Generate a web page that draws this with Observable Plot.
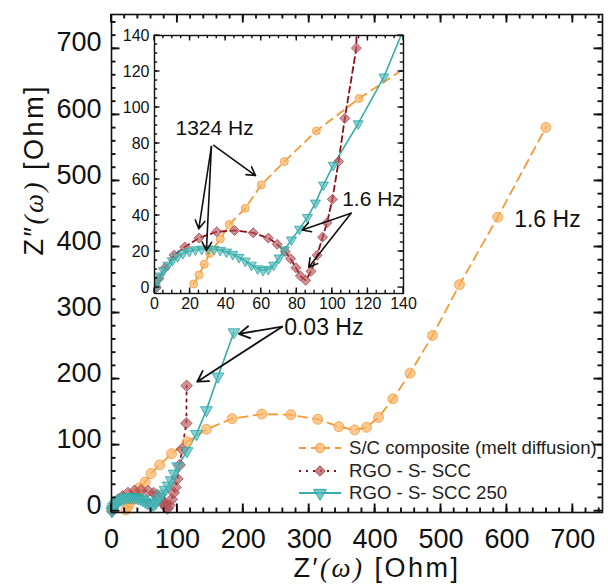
<!DOCTYPE html>
<html><head><meta charset="utf-8">
<script src="https://cdn.jsdelivr.net/npm/d3@7"></script>
<script src="https://cdn.jsdelivr.net/npm/@observablehq/plot@0.6"></script>
<style>
body{margin:0;background:#fff;font-family:"Liberation Sans",Arial,sans-serif;}
#wrap{position:relative;width:608px;height:585px;overflow:hidden;}
#inset{position:absolute;left:100px;top:20px;}
#legend{position:absolute;left:296px;top:437px;font-size:18.6px;color:#222;line-height:22.5px;}
#legend div{display:flex;align-items:center;height:22.5px;white-space:nowrap;}
#legend svg{margin-right:7px;}
</style></head><body><div id="wrap"></div>
<script>
// S/C composite (melt diffusion)
const scX = [22,25,28,31,37,42,51,60,73,91,115,144,183,228,272,313,345,369,387,405,427,453,487,528,586,659];
const scY = [2,7,13,19,27,35,44,57,70,87,105,124,140,147,146,139,128,123,127,142,170,209,266,343,445,581];
// RGO - S- SCC
const rgoX = [1,2.5,6,11,17,25,35,45,55.5,64,69,73.5,76.5,79.5,82,85,88,91.5,94.5,97,100,103.5,107,113.5,114];
const rgoY = [0,5,11,18,22.5,27.5,31,31.7,30.4,27.5,24,20,16,11,6.5,4,9,18,28,36,49,70,94,133,190];
// RGO - S- SCC 250
const r250X = [0.5,1.5,3,5,7.5,10,13,16,19.5,23,26.5,30,33.5,37,40.5,44,47.5,51,54.5,58,61,64,67,70,73,77,81.5,86,90.5,95,100.5,114.5,129,144,161.5,185.7];
const r250Y = [0,3.5,6.5,9.5,12.5,15,17.2,19,20.2,21,21.4,21.5,21.3,20.7,19.8,18.5,16.8,14.8,12.5,10.5,9.6,10.2,12.5,16.5,21,26.5,32.5,39,47,57,68,91,117,153,204,271];

const seriesNames = ["S/C composite (melt diffusion)","RGO - S- SCC","RGO - S- SCC 250"];
const mainXTicks = [0,100,200,300,400,500,600,700];
const mainYTicks = [0,100,200,300,400,500,600,700];
const insetTicks = [0,20,40,60,80,100,120,140];

// annotations
const mainLabels = [{x:262,y:278.4,text:"0.03 Hz"},{x:611,y:441.5,text:"1.6 Hz"}];
const mainArrows = [{x1:259,y1:279.4,x2:193.3,y2:268.4},{x1:259,y1:279.4,x2:130,y2:196}];
const insetLabels = [{x:11.8,y:88.2,text:"1324 Hz"},{x:105.5,y:49.3,text:"1.6 Hz"}];
const insetArrows = [
  {x1:32,y1:78.3,x2:24.9,y2:32.6},{x1:32,y1:78.3,x2:29.2,y2:20.6},{x1:33.3,y1:79,x2:56.8,y2:62.2},
  {x1:110.5,y1:41.3,x2:83,y2:32},{x1:110.5,y1:41.3,x2:86.7,y2:11.3}
];

const zip = (xs, ys) => xs.map((x,i)=>({x, y: ys[i]}));
const sc = zip(scX, scY), rgo = zip(rgoX, rgoY), r250 = zip(r250X, r250Y);

const C = {
  orange:"#F59A34", orangeFill:"#F9B25E", orangeStroke:"#F39E45",
  red:"#8E0F18", redFill:"#B8555B", redStroke:"#A0474C",
  teal:"#35AEAD", tealFill:"#4DB8B8", tealStroke:"#2FA5A5"
};
const FONT = "Liberation Sans, Arial, sans-serif";

function seriesMarks(opt) {
  const clip = opt.clip;
  return [
    Plot.line(sc, {x:"x", y:"y", stroke:C.orange, strokeWidth:1.8, strokeDasharray:opt.scDash, clip}),
    Plot.line(rgo, {x:"x", y:"y", stroke:C.red, strokeWidth:1.8, strokeDasharray:opt.rgoDash, clip}),
    Plot.line(r250, {x:"x", y:"y", stroke:C.teal, strokeWidth:1.6, clip}),
    Plot.dot(sc, {x:"x", y:"y", symbol:"circle", r:opt.rc, fill:C.orangeFill, fillOpacity:0.7, stroke:C.orangeStroke, strokeOpacity:0.8, strokeWidth:1, clip}),
    Plot.dot(rgo, {x:"x", y:"y", symbol:"diamond2", r:opt.rd, fill:C.redFill, fillOpacity:0.65, stroke:C.redStroke, strokeOpacity:0.8, strokeWidth:1, clip}),
    Plot.dot(r250, {x:"x", y:"y", symbol:"triangle", rotate:180, r:opt.rt, fill:C.tealFill, fillOpacity:0.65, stroke:C.tealStroke, strokeOpacity:0.8, strokeWidth:1, clip})
  ];
}

// inward ticks on all four sides, positioned with the plot's own x and y scales
function addFrameTicks(fig, tx, ty, mx, my, major, minor, sw) {
  const sx = fig.scale("x"), sy = fig.scale("y");
  const [X0, X1] = sx.range, [Y0, Y1] = sy.range; // Y0 bottom, Y1 top
  const g = d3.select(fig).append("g").attr("stroke", "#111").attr("stroke-width", sw).attr("fill", "none");
  for (const [T, L] of [[tx, major],[mx, minor]]) for (const v of T) {
    const p = sx.apply(v);
    g.append("line").attr("x1", p).attr("x2", p).attr("y1", Y0).attr("y2", Y0 - L);
    g.append("line").attr("x1", p).attr("x2", p).attr("y1", Y1).attr("y2", Y1 + L);
  }
  for (const [T, L] of [[ty, major],[my, minor]]) for (const v of T) {
    const p = sy.apply(v);
    g.append("line").attr("y1", p).attr("y2", p).attr("x1", X0).attr("x2", X0 + L);
    g.append("line").attr("y1", p).attr("y2", p).attr("x1", X1).attr("x2", X1 - L);
  }
}

const wrap = document.getElementById("wrap");

const main = Plot.plot({
  width:608, height:585,
  marginLeft:111, marginRight:6, marginTop:14, marginBottom:73,
  x:{domain:[0,745]}, y:{domain:[-2,752]},
  style:{fontFamily:FONT, background:"white", color:"#111", overflow:"visible"},
  marks:[
    ...seriesMarks({scDash:"9,6", rgoDash:"2,5", rc:5, rd:5.2, rt:4.4}),
    Plot.frame({stroke:"#111", strokeWidth:1.6}),
    Plot.axisX(mainXTicks, {anchor:"bottom", tickSize:0, tickPadding:16, fontSize:27, label:null}),
    Plot.axisY(mainYTicks, {anchor:"left", tickSize:0, tickPadding:10, fontSize:27, label:null, dy:-6}),
    Plot.text(["X"], {frameAnchor:"bottom", dx:20, dy:64, text:()=>"XTITLE", fontSize:27, fill:"#111"}),
    Plot.text(["Y"], {frameAnchor:"left", dx:-77, dy:-8, rotate:-90, text:()=>"YTITLE", fontSize:27, fill:"#111"}),
    Plot.arrow(mainArrows, {x1:"x1", y1:"y1", x2:"x2", y2:"y2", stroke:"#111", strokeWidth:1.8, headLength:10}),
    Plot.text(mainLabels, {x:"x", y:"y", text:"text", textAnchor:"start", fontSize:23, fill:"#111"})
  ]
});
addFrameTicks(main, mainXTicks, mainYTicks, d3.range(20,745,20), d3.range(20,751,20), 8.5, 4.5, 1.9);
wrap.appendChild(main);

const inset = Plot.plot({
  width:310, height:295,
  marginLeft:54, marginRight:7, marginTop:15, marginBottom:22,
  x:{domain:[0,140]}, y:{domain:[-3.3,140]},
  style:{fontFamily:FONT, background:"transparent", color:"#111", overflow:"visible"},
  marks:[
    Plot.frame({fill:"white", stroke:"none"}),
    ...seriesMarks({scDash:"8,6", rgoDash:"6,4", rc:4, rd:4.5, rt:3.7, clip:true}),
    Plot.frame({stroke:"#111", strokeWidth:1.4}),
    Plot.axisX(insetTicks, {anchor:"bottom", tickSize:0, tickPadding:4, fontSize:16, label:null}),
    Plot.axisY(insetTicks, {anchor:"left", tickSize:0, tickPadding:5, fontSize:16, label:null}),
    Plot.arrow(insetArrows, {x1:"x1", y1:"y1", x2:"x2", y2:"y2", stroke:"#111", strokeWidth:1.6, headLength:9}),
    Plot.text(insetLabels, {x:"x", y:"y", text:"text", textAnchor:"start", fontSize:21, fill:"#111"})
  ]
});
addFrameTicks(inset, insetTicks, insetTicks, d3.range(5,140,5), d3.range(5,140,5), 5.5, 3.2, 1.4);
inset.id = "inset";
wrap.appendChild(inset);

// axis titles with italic (ω)
function richTitle(node, prime) {
  node.textContent = "";
  const t = d3.select(node).attr("letter-spacing", "2.5");
  t.append("tspan").text("Z" + prime);
  t.append("tspan").attr("font-family","Liberation Serif, Times New Roman, serif").attr("font-style","italic").text("(ω)");
  t.append("tspan").text(" [Ohm]");
}
main.querySelectorAll("text").forEach(n => {
  if (n.textContent === "XTITLE") richTitle(n, "′");
  else if (n.textContent === "YTITLE") richTitle(n, "″");
});

// legend
const legendSpec = [
  {name:seriesNames[0], line:C.orange, dash:"7,5", sym:"circle", fill:C.orangeFill, stroke:C.orangeStroke, rot:0},
  {name:seriesNames[1], line:C.red, dash:"2,5", sym:"diamond2", fill:C.redFill, stroke:C.redStroke, rot:0},
  {name:seriesNames[2], line:C.teal, dash:null, sym:"triangle", fill:C.tealFill, stroke:C.tealStroke, rot:180}
];
const symMap = {circle:d3.symbolCircle, diamond2:d3.symbolDiamond2, triangle:d3.symbolTriangle};
const leg = d3.select(wrap).append("div").attr("id","legend");
for (const s of legendSpec) {
  const row = leg.append("div");
  const svg = row.append("svg").attr("width",46).attr("height",20);
  svg.append("line").attr("x1",3).attr("x2",45).attr("y1",10).attr("y2",10)
    .attr("stroke",s.line).attr("stroke-width",1.8).attr("stroke-dasharray",s.dash);
  svg.append("path").attr("d", d3.symbol(symMap[s.sym], Math.PI*4.7*4.7)())
    .attr("transform",`translate(24,10) rotate(${s.rot})`)
    .attr("fill",s.fill).attr("fill-opacity",0.75).attr("stroke",s.stroke).attr("stroke-width",1);
  row.append("span").text(s.name);
}
</script></body></html>
